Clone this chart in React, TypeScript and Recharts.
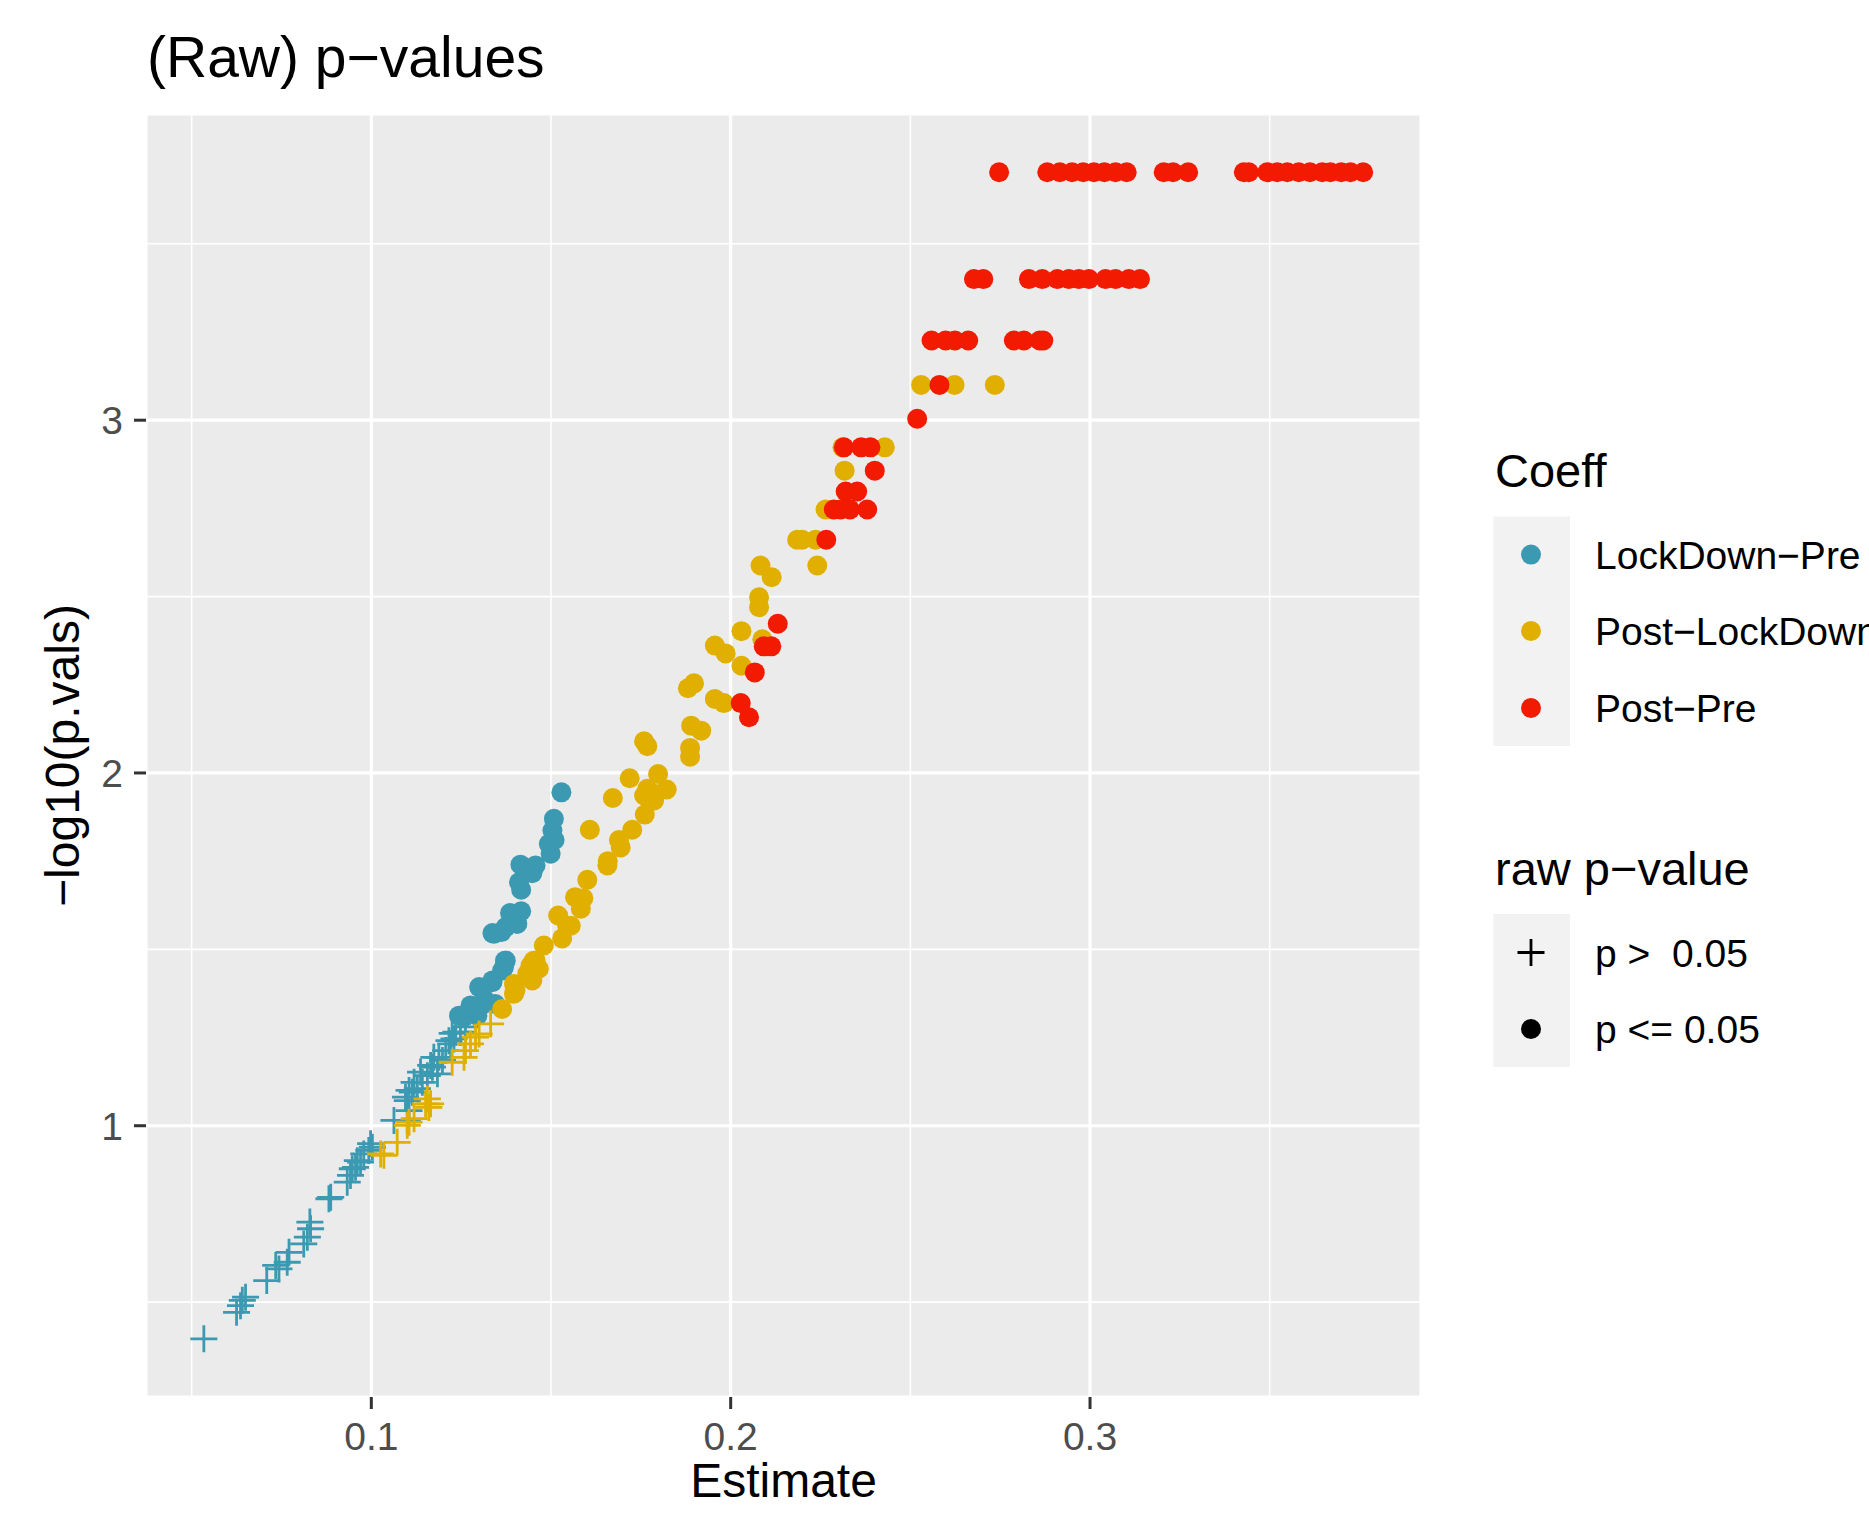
import React from "react";
import {
  ScatterChart,
  Scatter,
  XAxis,
  YAxis,
  CartesianGrid,
  Legend,
  Label,
} from "recharts";

// LockDown−Pre (blue)
const lockdownPreEstimate = [
  0.0534, 0.0625, 0.0636, 0.0641, 0.065, 0.0709, 0.0734, 0.0743, 0.0766, 0.0771,
  0.0812, 0.0822, 0.0829, 0.0831, 0.0882, 0.0887, 0.0933, 0.0942, 0.0947, 0.0956,
  0.0961, 0.097, 0.0979, 0.0993, 0.0998, 0.1003, 0.1063, 0.1095, 0.11, 0.11,
  0.1105, 0.1105, 0.1114, 0.1119, 0.1128, 0.1137, 0.1142, 0.1156, 0.1165, 0.117,
  0.1174, 0.1184, 0.1188, 0.1198, 0.1207, 0.1216, 0.1221, 0.1225, 0.123, 0.1235,
  0.1248, 0.1262,
  0.1244, 0.1258, 0.1276, 0.1281, 0.1295, 0.13, 0.1313, 0.1314, 0.1337, 0.1337,
  0.1345, 0.1364, 0.1369, 0.1372, 0.1374, 0.1337, 0.1341, 0.1362, 0.1374, 0.1386,
  0.1406, 0.1406, 0.1417, 0.1411, 0.1417, 0.1448, 0.1415, 0.1457, 0.1499, 0.1494,
  0.151, 0.1504, 0.1508, 0.1529,
];
const lockdownPreLogP = [
  0.396, 0.471, 0.49, 0.505, 0.514, 0.561, 0.604, 0.594, 0.613, 0.641,
  0.665, 0.684, 0.727, 0.708, 0.793, 0.797, 0.84, 0.859, 0.878, 0.882,
  0.901, 0.897, 0.92, 0.93, 0.949, 0.939, 1.015, 1.081, 1.015, 1.071,
  1.043, 1.1, 1.095, 1.123, 1.105, 1.152, 1.123, 1.142, 1.171, 1.166,
  1.194, 1.147, 1.194, 1.185, 1.213, 1.241, 1.232, 1.262, 1.246, 1.265,
  1.265, 1.28,
  1.312, 1.308, 1.341, 1.336, 1.312, 1.393, 1.345, 1.36, 1.407, 1.412,
  1.345, 1.44, 1.449, 1.468, 1.468, 1.546, 1.544, 1.549, 1.563, 1.603,
  1.574, 1.572, 1.608, 1.69, 1.669, 1.716, 1.74, 1.738, 1.771, 1.799,
  1.81, 1.837, 1.87, 1.945,
];

// Post−LockDown (yellow)
const postLockdownEstimate = [
  0.1026, 0.1035, 0.1072, 0.11, 0.1105, 0.1119, 0.1151, 0.1156, 0.116, 0.1165,
  0.1225, 0.1258, 0.1262, 0.1276, 0.129, 0.13, 0.1332,
  0.1364, 0.1397, 0.1397, 0.1401, 0.1434, 0.1448, 0.1443, 0.1452, 0.1457, 0.1466,
  0.148, 0.1531, 0.1545, 0.1555, 0.152, 0.1583, 0.1567, 0.159, 0.1601, 0.1657,
  0.1658, 0.1694, 0.1689, 0.1608, 0.1726, 0.1761, 0.1672, 0.1787, 0.1759, 0.1787,
  0.1768, 0.1822, 0.1798, 0.1719, 0.1887, 0.1887, 0.1768, 0.1759, 0.1918, 0.189,
  0.1981, 0.1956, 0.1881, 0.1898, 0.203, 0.1986, 0.1956, 0.21, 0.2088, 0.203,
  0.2079, 0.2079, 0.2114, 0.2083, 0.2241, 0.2185, 0.2199, 0.2236, 0.2264, 0.2317,
  0.2311, 0.2429, 0.253, 0.2623, 0.2735,
];
const postLockdownLogP = [
  0.92, 0.916, 0.953, 1.001, 1.01, 1.02, 1.062, 1.076, 1.052, 1.062,
  1.18, 1.194, 1.213, 1.232, 1.251, 1.26, 1.289,
  1.331, 1.374, 1.402, 1.383, 1.431, 1.412, 1.454, 1.468, 1.468, 1.445,
  1.511, 1.531, 1.567, 1.567, 1.596, 1.615, 1.648, 1.645, 1.697, 1.738,
  1.75, 1.789, 1.81, 1.839, 1.839, 1.882, 1.929, 1.922, 1.936, 1.941,
  1.955, 1.953, 1.997, 1.985, 2.046, 2.071, 2.076, 2.09, 2.12, 2.134,
  2.198, 2.21, 2.24, 2.254, 2.304, 2.339, 2.361, 2.359, 2.379, 2.402,
  2.47, 2.498, 2.555, 2.588, 2.588, 2.661, 2.661, 2.661, 2.747, 2.857,
  2.923, 2.923, 3.1, 3.1, 3.1,
];

// Post−Pre (red)
const postPreEstimate = [
  0.2051, 0.2028, 0.2067, 0.2092, 0.2113, 0.2131, 0.2266, 0.2287, 0.2306, 0.2332,
  0.238, 0.232, 0.2352, 0.2401, 0.2315, 0.2363, 0.2389, 0.2519, 0.2581,
  0.2559, 0.2598, 0.2624, 0.2661, 0.2788, 0.2816, 0.286, 0.287,
  0.2677, 0.2703, 0.283, 0.2867, 0.2909, 0.2941, 0.2969, 0.2997, 0.3043, 0.3071,
  0.3108, 0.3139,
  0.2747, 0.2881, 0.2916, 0.295, 0.2981, 0.3011, 0.304, 0.3071, 0.3102, 0.3205,
  0.3231, 0.3273, 0.3428, 0.3442, 0.3493, 0.3521, 0.3549, 0.3581, 0.3612, 0.3646,
  0.3669, 0.3699, 0.3725, 0.376,
];
const postPreLogP = [
  2.158, 2.198, 2.285, 2.359, 2.359, 2.423, 2.661, 2.747, 2.747, 2.747,
  2.747, 2.798, 2.798, 2.857, 2.923, 2.923, 2.923, 3.004, 3.1,
  3.226, 3.226, 3.226, 3.226, 3.226, 3.226, 3.226, 3.226,
  3.4, 3.4, 3.4, 3.4, 3.4, 3.4, 3.4, 3.4, 3.4, 3.4,
  3.4, 3.4,
  3.703, 3.703, 3.703, 3.703, 3.703, 3.703, 3.703, 3.703, 3.703, 3.703,
  3.703, 3.703, 3.703, 3.703, 3.703, 3.703, 3.703, 3.703, 3.703, 3.703,
  3.703, 3.703, 3.703, 3.703,
];

const xTicks = [0.1, 0.2, 0.3];
const yTicks = [1, 2, 3];
const xMinor = [0.05, 0.15, 0.25, 0.35];
const yMinor = [0.5, 1.5, 2.5, 3.5];
const xDomain = [0.0373, 0.3921];
const yDomain = [0.231, 3.868];

const SIG = -Math.log10(0.05);
const FONT = '"Liberation Sans", Arial, Helvetica, sans-serif';

const BLUE = "#3B9AB2";
const YELLOW = "#E1AF00";
const RED = "#F21A00";

const toPoints = (est: number[], logp: number[]) =>
  est.map((x, i) => ({ x, y: logp[i] }));

const series = [
  { name: "LockDown−Pre", color: BLUE, data: toPoints(lockdownPreEstimate, lockdownPreLogP) },
  { name: "Post−LockDown", color: YELLOW, data: toPoints(postLockdownEstimate, postLockdownLogP) },
  { name: "Post−Pre", color: RED, data: toPoints(postPreEstimate, postPreLogP) },
];

const DOT_R = 10;
const ARM = 13.5;

const plus = (cx: number, cy: number, color: string) => (
  <path
    d={`M${cx - ARM},${cy}H${cx + ARM}M${cx},${cy - ARM}V${cy + ARM}`}
    stroke={color}
    strokeWidth={2.8}
    fill="none"
  />
);

const makeShape = (color: string) => (props: any) => {
  const { cx, cy, payload } = props;
  if (payload.y >= SIG) return <circle cx={cx} cy={cy} r={DOT_R} fill={color} />;
  return plus(cx, cy, color);
};

function LegendBox() {
  // local coords inside the legend wrapper
  const keyX = 81;
  const textX = 145;
  const rows = [134.6, 211, 288];
  const rows2 = [532.5, 609];
  return (
    <svg width={419} height={660} style={{ display: "block", fontFamily: FONT }}>
      <text x={45} y={67} fontSize={47} fill="#000">Coeff</text>
      <rect x={43.5} y={96.5} width={76.5} height={229.5} fill="#F2F2F2" />
      {series.map((s, i) => (
        <g key={s.name}>
          <circle cx={keyX} cy={rows[i]} r={DOT_R} fill={s.color} />
          <text x={textX} y={rows[i] + 14} fontSize={39} fill="#000">{s.name}</text>
        </g>
      ))}
      <text x={45} y={465} fontSize={47} fill="#000">raw p−value</text>
      <rect x={43.5} y={494} width={76.5} height={153} fill="#F2F2F2" />
      {plus(keyX, rows2[0], "#000")}
      <text x={textX} y={rows2[0] + 14} fontSize={39} fill="#000" style={{ whiteSpace: "pre" }}>
        {"p >  0.05"}
      </text>
      <circle cx={keyX} cy={rows2[1]} r={DOT_R} fill="#000" />
      <text x={textX} y={rows2[1] + 14} fontSize={39} fill="#000">p &lt;= 0.05</text>
    </svg>
  );
}

export default function App() {
  const tickStyle = { fill: "#4D4D4D", fontSize: 39, fontFamily: FONT };
  return (
    <div
      style={{
        position: "absolute",
        left: 0,
        top: 0,
        width: 1869,
        height: 1518,
        overflow: "hidden",
        background: "#fff",
        fontFamily: FONT,
      }}
    >
      <div
        style={{
          position: "absolute",
          left: 147,
          top: 29,
          fontSize: 57,
          lineHeight: 1,
          color: "#000",
          whiteSpace: "nowrap",
        }}
      >
        (Raw) p−values
      </div>
      <ScatterChart width={1869} height={1518} margin={{ top: 114, right: 448, bottom: 0, left: 0 }}>
        <CartesianGrid
          fill="#EBEBEB"
          stroke="#FFFFFF"
          strokeWidth={1.6}
          horizontalValues={yMinor}
          verticalValues={xMinor}
        />
        <CartesianGrid stroke="#FFFFFF" strokeWidth={3.2} />
        <XAxis
          type="number"
          dataKey="x"
          domain={xDomain}
          allowDataOverflow
          ticks={xTicks}
          height={121}
          tickSize={12}
          tickMargin={13}
          axisLine={false}
          tickLine={{ stroke: "#333333", strokeWidth: 3 }}
          tick={tickStyle}
          tickFormatter={(v: number) => String(v)}
        >
          <Label
            content={(p: any) => {
              const vb = p.viewBox || {};
              return (
                <text
                  x={vb.x + vb.width / 2}
                  y={vb.y + 100}
                  textAnchor="middle"
                  fontSize={48}
                  fontFamily={FONT}
                  fill="#000"
                >
                  Estimate
                </text>
              );
            }}
          />
        </XAxis>
        <YAxis
          type="number"
          dataKey="y"
          domain={yDomain}
          allowDataOverflow
          ticks={yTicks}
          width={146}
          tickSize={12}
          tickMargin={11}
          axisLine={false}
          tickLine={{ stroke: "#333333", strokeWidth: 3 }}
          tick={tickStyle}
        >
          <Label
            content={(p: any) => {
              const vb = p.viewBox || {};
              const cx = vb.x + 79;
              const cy = vb.y + vb.height / 2;
              return (
                <text
                  x={cx}
                  y={cy}
                  transform={`rotate(-90 ${cx} ${cy})`}
                  textAnchor="middle"
                  fontSize={48}
                  fontFamily={FONT}
                  fill="#000"
                >
                  −log10(p.vals)
                </text>
              );
            }}
          />
        </YAxis>
        {series.map((s) => (
          <Scatter
            key={s.name}
            name={s.name}
            data={s.data}
            fill={s.color}
            shape={makeShape(s.color)}
            isAnimationActive={false}
          />
        ))}
        <Legend
          layout="vertical"
          align="center"
          verticalAlign="middle"
          wrapperStyle={{ left: 1450, top: 420, width: 419, height: 660 }}
          content={() => <LegendBox />}
        />
      </ScatterChart>
    </div>
  );
}
